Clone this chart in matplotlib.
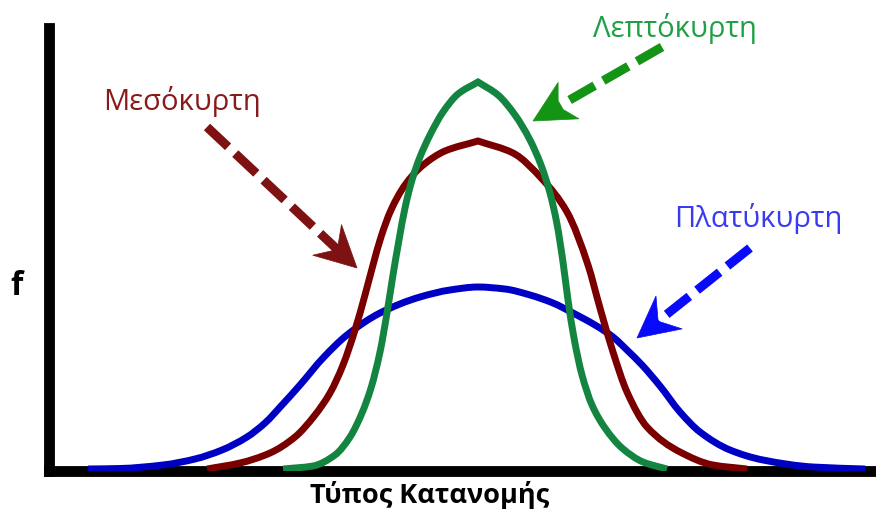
import matplotlib
matplotlib.use("Agg")
import matplotlib.pyplot as plt
from matplotlib.patches import Polygon, PathPatch
from matplotlib.path import Path
import numpy as np

# Curve samples: x position (centre = 0) and frequency f
lepto_x = [-1.95, -1.65, -1.43, -1.28, -1.16, -1.07, -0.98, -0.91, -0.85, -0.79, -0.73, -0.66, -0.58,
           -0.48, -0.35, -0.20, 0.0,
           0.20, 0.37, 0.52, 0.63, 0.72, 0.79, 0.85, 0.90, 0.96, 1.04, 1.14, 1.27, 1.44, 1.65, 1.89]
lepto_f = [0.0, 0.03, 0.14, 0.32, 0.56, 0.81, 1.17, 1.56, 1.94, 2.29, 2.61, 2.89, 3.12,
           3.34, 3.57, 3.75, 3.87,
           3.74, 3.54, 3.29, 3.04, 2.76, 2.45, 2.07, 1.69, 1.31, 0.94, 0.64, 0.41, 0.21, 0.07, 0.0]

meso_x = [-2.71, -2.38, -2.08, -1.83, -1.63, -1.48, -1.35, -1.23, -1.13, -1.05, -0.97, -0.87, -0.73,
          -0.56, -0.33, 0.0,
          0.35, 0.65, 0.89, 1.10, 1.22, 1.35, 1.49, 1.69, 2.02, 2.35, 2.69]
meso_f = [0.0, 0.06, 0.16, 0.32, 0.54, 0.76, 1.04, 1.39, 1.74, 2.04, 2.32, 2.59, 2.84,
          3.03, 3.18, 3.28,
          3.16, 2.89, 2.57, 2.04, 1.61, 1.17, 0.77, 0.42, 0.17, 0.04, 0.0]

platy_x = [-3.90, -3.58, -3.15, -2.83, -2.56, -2.31, -2.13, -1.96, -1.78, -1.55, -1.31, -0.98, -0.58,
           -0.28, 0.0,
           0.27, 0.52, 0.75, 0.95, 1.17, 1.35, 1.50, 1.64, 1.82, 2.02, 2.22, 2.52, 2.85, 3.35, 3.87]
platy_f = [0.0, 0.005, 0.04, 0.10, 0.19, 0.32, 0.46, 0.64, 0.84, 1.11, 1.34, 1.56, 1.72,
           1.79, 1.82,
           1.80, 1.74, 1.66, 1.56, 1.44, 1.32, 1.18, 1.04, 0.83, 0.57, 0.37, 0.19, 0.09, 0.02, 0.0]

labels = ["Μεσόκυρτη", "Λεπτόκυρτη", "Πλατύκυρτη"]
x_label = "Τύπος Κατανομής"
y_label = "f"

W, H = 876, 511
X0, Y0 = 478, 469   # pixel position of x = 0, f = 0
fig = plt.figure(figsize=(W / 100, H / 100), dpi=100)

# axes frame in pixels: left spine at x=49, bottom spine at y=471, top at y=28
L, R, T, B = 49, 880, 28, 471
ax = fig.add_axes([L / W, 1 - B / H, (R - L) / W, (B - T) / H])
ax.set_xlim((L - X0) / 100, (R - X0) / 100)
ax.set_ylim((Y0 - B) / 100, (Y0 - T) / 100)
ax.set_xticks([])
ax.set_yticks([])
for s in ("top", "right"):
    ax.spines[s].set_visible(False)
for s in ("left", "bottom"):
    ax.spines[s].set_linewidth(7.8)
    ax.spines[s].set_color("black")
    ax.spines[s].set_capstyle("projecting")


def pchip_slopes(x, y):
    """Shape-preserving (monotone) tangents for a Hermite curve through x, y."""
    h = np.diff(x)
    d = np.diff(y) / h
    m = np.zeros_like(y)
    m[0], m[-1] = d[0], d[-1]
    for k in range(1, len(x) - 1):
        if d[k - 1] * d[k] <= 0:
            m[k] = 0.0
        else:
            w1 = 2 * h[k] + h[k - 1]
            w2 = h[k] + 2 * h[k - 1]
            m[k] = (w1 + w2) / (w1 / d[k - 1] + w2 / d[k])
    return m


def hermite_bezier(x, y):
    m = pchip_slopes(x, y)
    verts, codes = [], []
    for k in range(len(x) - 1):
        h = x[k + 1] - x[k]
        verts += [(x[k] + h / 3, y[k] + m[k] * h / 3),
                  (x[k + 1] - h / 3, y[k + 1] - m[k + 1] * h / 3),
                  (x[k + 1], y[k + 1])]
        codes += [Path.CURVE4] * 3
    return verts, codes


def smooth_curve(xs, ys, color, pointed_top, z):
    x = np.asarray(xs, float)
    y = np.asarray(ys, float)
    verts, codes = [(x[0], y[0])], [Path.MOVETO]
    if pointed_top:
        k = int(np.argmax(y))
        parts = [(x[:k + 1], y[:k + 1]), (x[k:], y[k:])]
    else:
        parts = [(x, y)]
    for px, py in parts:
        v, c = hermite_bezier(px, py)
        verts += v
        codes += c
    patch = PathPatch(Path(verts, codes), facecolor="none", edgecolor=color, lw=5.0,
                      capstyle="butt", joinstyle="miter", zorder=z)
    ax.add_patch(patch)


smooth_curve(platy_x, platy_f, "#0000C4", False, 3)
smooth_curve(meso_x, meso_f, "#7A0000", True, 4)
smooth_curve(lepto_x, lepto_f, "#138540", True, 5)


def p2d(px, py):
    return np.array([(px - X0) / 100, (Y0 - py) / 100])


def dashed_arrow(tail, tip, color, head_len=41, half_w=21, notch=27, width=6.5):
    t0, t1 = p2d(*tail), p2d(*tip)
    u = (t1 - t0) / np.linalg.norm(t1 - t0)
    n = np.array([-u[1], u[0]])
    hl, hw, nt = head_len / 100, half_w / 100, notch / 100
    base = t1 - u * hl
    notch_pt = t1 - u * nt
    shaft_end = t1 - u * (nt - 0.02)
    ax.plot([t0[0], shaft_end[0]], [t0[1], shaft_end[1]], color=color, lw=width,
            ls=(0, (3.2, 1.1)), dash_capstyle="butt", zorder=6)
    head = Polygon([t1, base + n * hw, notch_pt, base - n * hw], closed=True,
                   facecolor=color, edgecolor=color, lw=0.5, zorder=7)
    ax.add_patch(head)


dashed_arrow((207, 127), (357, 268), "#7E1212")
dashed_arrow((662, 47), (533, 121), "#149414", notch=29)
dashed_arrow((750, 248), (637, 338), "#0A0AFA")


def ftext(px, py, s, **kw):
    fig.text(px / W, 1 - py / H, s, **kw)


font = ["Open Sans", "DejaVu Sans"]
ftext(182, 110, labels[0], color="#8A1A1A", fontsize=21, ha="center", va="baseline", family=font)
ftext(675, 37, labels[1], color="#20A045", fontsize=21, ha="center", va="baseline", family=font)
ftext(758, 227, labels[2], color="#3A3AF2", fontsize=21, ha="center", va="baseline", family=font)
ftext(430, 503, x_label, color="black", fontsize=19.5, fontweight="bold", ha="center", va="baseline", family=font)
ftext(17, 295, y_label, color="black", fontsize=23, fontweight="bold", ha="center", va="baseline", family=font)

fig.savefig("out.png", dpi=100, facecolor="white")
